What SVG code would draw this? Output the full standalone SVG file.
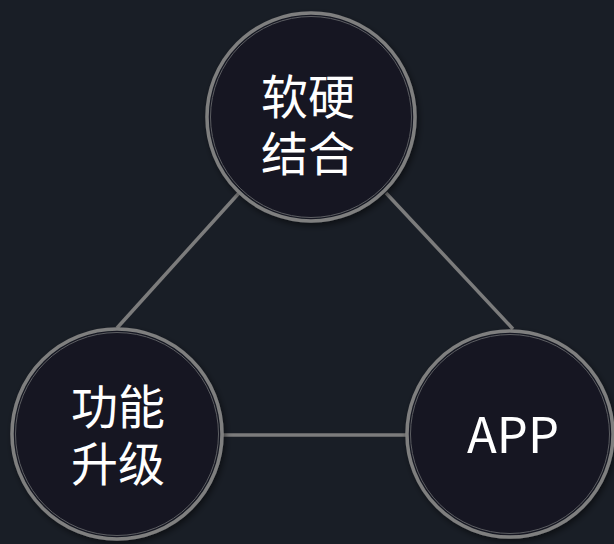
<svg xmlns="http://www.w3.org/2000/svg" width="614" height="544" viewBox="0 0 614 544">
  <defs>
    <style>
      .ring { fill: #141922; stroke: #7f7f7f; stroke-width: 3.5; }
      .inner { fill: none; stroke: #5c5e62; stroke-width: 1; }
      .edge { stroke: #7c7c7c; stroke-width: 3.5; fill: none; }
      .lbl { font-family: "Noto Sans CJK SC", "Noto Sans", sans-serif; fill: #ffffff; text-anchor: middle; }
    </style>
    <filter id="sh" x="-20%" y="-20%" width="140%" height="140%">
      <feDropShadow dx="2" dy="3" stdDeviation="3" flood-color="#000" flood-opacity="0.5"/>
    </filter>
  </defs>
  <rect width="614" height="544" fill="#191e26"/>
  <g id="connectors">
    <line class="edge" x1="117" y1="328" x2="239" y2="193"/>
    <line class="edge" x1="386" y1="193" x2="513" y2="329"/>
    <line class="edge" x1="222" y1="435" x2="408" y2="435"/>
  </g>
  <g id="node-top">
    <circle class="ring" cx="311" cy="117" r="104" filter="url(#sh)"/>
    <circle class="inner" cx="311" cy="117" r="100.5"/>
    <text class="lbl" font-size="47"><tspan x="308" y="114">软硬</tspan><tspan x="308" y="171">结合</tspan></text>
  </g>
  <g id="node-left">
    <circle class="ring" cx="117" cy="434" r="105" filter="url(#sh)"/>
    <circle class="inner" cx="117" cy="434" r="101.5"/>
    <text class="lbl" font-size="47"><tspan x="118" y="424">功能</tspan><tspan x="118" y="481">升级</tspan></text>
  </g>
  <g id="node-right">
    <circle class="ring" cx="510" cy="434" r="103" filter="url(#sh)"/>
    <circle class="inner" cx="510" cy="434" r="99.5"/>
    <text class="lbl" font-size="49" x="513" y="453">APP</text>
  </g>
</svg>
